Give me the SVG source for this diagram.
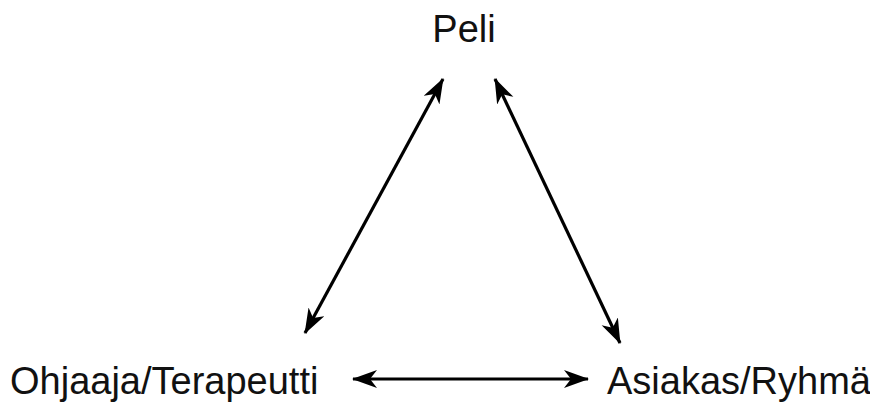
<svg xmlns="http://www.w3.org/2000/svg" width="870" height="405" viewBox="0 0 870 405">
<style>
.lbl{font-family:"Liberation Sans",Arial,sans-serif;font-size:38px;fill:#111}
.conn{stroke:#000;stroke-width:3.2;fill:none;marker-start:url(#ah);marker-end:url(#ah)}
</style>
<defs>
<marker id="ah" markerUnits="userSpaceOnUse" markerWidth="26" markerHeight="20" refX="24" refY="9" orient="auto-start-reverse" viewBox="0 0 26 20">
<path d="M25,9 L0,0 L7,9 L0,18 Z" fill="#000"/>
</marker>
</defs>
<rect width="870" height="405" fill="#fff"/>
<g id="connectors">
<line class="conn" x1="305" y1="333" x2="443" y2="79"/>
<line class="conn" x1="495" y1="79" x2="620" y2="343"/>
<line class="conn" x1="353" y1="379" x2="588" y2="379"/>
</g>
<g id="peli"><text class="lbl" x="464" y="42" text-anchor="middle">Peli</text></g>
<g id="ohjaaja"><text class="lbl" x="10" y="394">Ohjaaja/Terapeutti</text></g>
<g id="asiakas"><text class="lbl" x="607" y="394">Asiakas/Ryhmä</text></g>
</svg>
